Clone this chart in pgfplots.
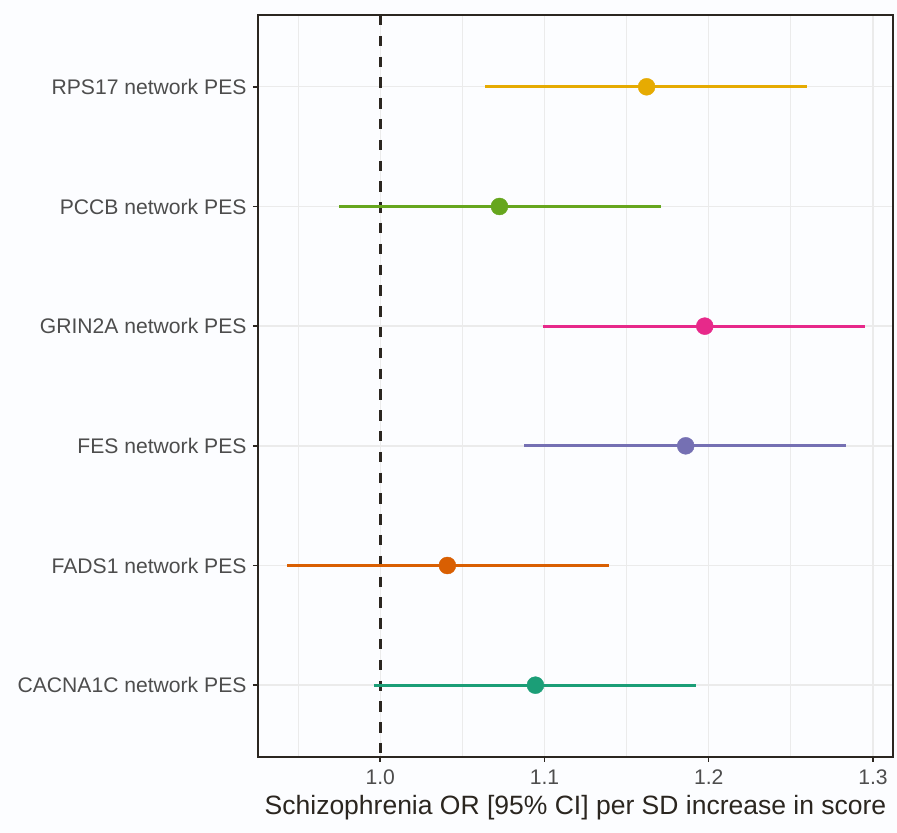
\documentclass[border=0pt]{standalone}
\usepackage{pgfplots}
\pgfplotsset{compat=1.18}
\usepackage{fontspec}
\setmainfont{Liberation Sans}
\usetikzlibrary{backgrounds,calc}
\definecolor{bg}{HTML}{FCFDFF}
\definecolor{frame}{HTML}{2B2620}
\definecolor{gridc}{HTML}{EBEBEB}
\definecolor{tickc}{HTML}{4D4D4D}
\definecolor{cA}{HTML}{1B9E77}
\definecolor{cB}{HTML}{D95F02}
\definecolor{cC}{HTML}{7570B3}
\definecolor{cD}{HTML}{E7298A}
\definecolor{cE}{HTML}{66A61E}
\definecolor{cF}{HTML}{E6AB02}
\begin{document}
\begin{tikzpicture}
\begin{axis}[
  name=ax,
  scale only axis,
  width=635bp, height=742bp,
  xmin=0.9256, xmax=1.3122,
  ymin=0.4, ymax=6.6,
  xtick={1.0,1.1,1.2,1.3},
  xticklabels={1.0,1.1,1.2,1.3},
  minor xtick={0.95,1.05,1.15,1.25},
  ytick={1,2,3,4,5,6},
  yticklabels={CACNA1C network PES,FADS1 network PES,FES network PES,GRIN2A network PES,PCCB network PES,RPS17 network PES},
  xmajorgrids, ymajorgrids, xminorgrids,
  major grid style={gridc, line width=1.4bp},
  minor grid style={gridc, line width=0.8bp},
  axis line style={frame, line width=1.5bp},
  tick style={frame, line width=1.5bp},
  tick align=outside,
  major tick length=5bp,
  minor tick length=0pt,
  xtick pos=bottom, ytick pos=left,
  ticklabel style={font=\fontsize{21.2}{24}\selectfont, text=tickc},
  yticklabel style={xshift=-3bp},
  xticklabel style={yshift=-4bp},
  /pgf/number format/assume math mode=true,
  xlabel={Schizophrenia OR [95\% CI] per SD increase in score},
  xlabel style={font=\fontsize{26.6}{30}\selectfont, text=frame, yshift=-4bp},
  axis background/.style={fill=bg},
  clip=false,
]
\addplot[frame, line width=2.8bp, dash pattern=on 10.5bp off 10.3bp] coordinates {(1.0,6.6) (1.0,0.4)};
% CACNA1C
\addplot[cA, line width=2.8bp] coordinates {(0.9963,1) (1.1920,1)};
\addplot[cA, only marks, mark=*, mark size=8.5bp, mark options={draw=none}] coordinates {(1.0945,1)};
% FADS1
\addplot[cB, line width=2.8bp] coordinates {(0.9433,2) (1.1390,2)};
\addplot[cB, only marks, mark=*, mark size=8.5bp, mark options={draw=none}] coordinates {(1.0409,2)};
% FES
\addplot[cC, line width=2.8bp] coordinates {(1.0878,3) (1.2835,3)};
\addplot[cC, only marks, mark=*, mark size=8.5bp, mark options={draw=none}] coordinates {(1.1860,3)};
% GRIN2A
\addplot[cD, line width=2.8bp] coordinates {(1.0994,4) (1.2951,4)};
\addplot[cD, only marks, mark=*, mark size=8.5bp, mark options={draw=none}] coordinates {(1.1976,4)};
% PCCB
\addplot[cE, line width=2.8bp] coordinates {(0.9750,5) (1.1707,5)};
\addplot[cE, only marks, mark=*, mark size=8.5bp, mark options={draw=none}] coordinates {(1.0726,5)};
% RPS17
\addplot[cF, line width=2.8bp] coordinates {(1.0640,6) (1.2598,6)};
\addplot[cF, only marks, mark=*, mark size=8.5bp, mark options={draw=none}] coordinates {(1.1622,6)};
\end{axis}
\begin{pgfonlayer}{background}
\fill[bg] ($(ax.south west)+(-258bp,-76bp)$) rectangle ($(ax.north east)+(4bp,15bp)$);
\end{pgfonlayer}
\end{tikzpicture}
\end{document}
